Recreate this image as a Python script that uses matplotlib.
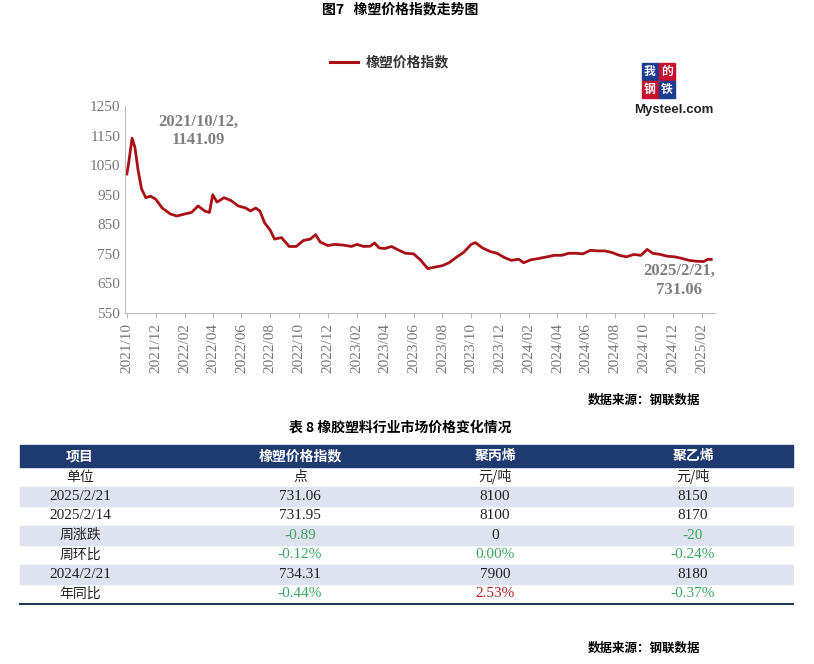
import matplotlib
matplotlib.use("Agg")
import matplotlib.pyplot as plt
import pandas as pd
from matplotlib.patches import Rectangle

dates = ["2021-10-01","2021-10-05","2021-10-12","2021-10-18","2021-10-25","2021-11-01","2021-11-10","2021-11-20",
"2021-12-01","2021-12-15","2022-01-01","2022-01-15","2022-02-01","2022-02-15","2022-03-01","2022-03-15","2022-03-25",
"2022-04-01","2022-04-10","2022-04-25","2022-05-10","2022-05-25","2022-06-10","2022-06-20","2022-07-01","2022-07-10",
"2022-07-20","2022-08-01","2022-08-10","2022-08-25","2022-09-10","2022-09-25","2022-10-10","2022-10-25","2022-11-05",
"2022-11-15","2022-12-01","2022-12-15","2023-01-01","2023-01-20","2023-02-01","2023-02-15","2023-03-01","2023-03-10",
"2023-03-20","2023-04-01","2023-04-15","2023-05-01","2023-05-15","2023-06-01","2023-06-15","2023-07-01","2023-07-15",
"2023-08-01","2023-08-15","2023-09-01","2023-09-15","2023-10-01","2023-10-10","2023-10-25","2023-11-10","2023-11-25",
"2023-12-10","2023-12-25","2024-01-10","2024-01-20","2024-02-05","2024-02-21","2024-03-10","2024-03-25","2024-04-10",
"2024-04-25","2024-05-10","2024-05-25","2024-06-10","2024-06-25","2024-07-10","2024-07-25","2024-08-10","2024-08-25",
"2024-09-10","2024-09-25","2024-10-08","2024-10-20","2024-11-05","2024-11-20","2024-12-05","2024-12-20","2025-01-05",
"2025-01-20","2025-02-05","2025-02-14","2025-02-21"]
values = [1020,1060,1141.09,1110,1030,970,940,945,935,905,885,878,885,890,912,895,890,950,925,940,930,912,905,895,905,895,
855,830,800,805,775,775,795,800,815,790,778,782,780,775,782,775,776,787,770,768,775,762,752,750,730,700,705,710,720,740,
755,782,788,770,758,752,738,728,732,720,730,734.31,740,745,745,752,752,750,762,760,760,755,745,740,748,745,765,752,748,
742,740,735,728,725,724,731.95,731.06]

tbl_header = ["项目", "橡塑价格指数", "聚丙烯", "聚乙烯"]
tbl_rows = [["单位", "点", "元/吨", "元/吨"],
            ["2025/2/21", "731.06", "8100", "8150"],
            ["2025/2/14", "731.95", "8100", "8170"],
            ["周涨跌", "-0.89", "0", "-20"],
            ["周环比", "-0.12%", "0.00%", "-0.24%"],
            ["2024/2/21", "734.31", "7900", "8180"],
            ["年同比", "-0.44%", "2.53%", "-0.37%"]]
green, red, black = "#3aa660", "#b22222", "#222222"
tbl_colors = [[black]*4, [black]*4, [black]*4,
              [black, green, black, green],
              [black, green, green, green],
              [black]*4,
              [black, green, red, green]]

W, H = 814, 664
fig = plt.figure(figsize=(W/100, H/100), dpi=100)
CJK = "Noto Sans CJK SC"
SERIF = "Liberation Serif"

# chart
ax = fig.add_axes([125/W, 1-313/H, (715-125)/W, (313-106)/H])
ax.patch.set_alpha(0)
d = pd.to_datetime(dates)
ax.plot(d, values, color="#A81015", lw=2)
ax.set_ylim(550, 1250)
ax.set_yticks(range(550, 1251, 100))
ax.set_xlim(pd.Timestamp("2021-09-27"), pd.Timestamp("2025-03-01"))
ticks = pd.date_range("2021-10-01", "2025-02-01", freq="2MS")
ax.set_xticks(ticks)
ax.set_xticklabels([t.strftime("%Y/%m") for t in ticks], rotation=90)
for s in ["top", "right"]:
    ax.spines[s].set_visible(False)
for s in ["left", "bottom"]:
    ax.spines[s].set_color("#bbbbbb")
ax.tick_params(axis="both", colors="#bbbbbb", labelcolor="#777777", labelsize=11)
for lab in ax.get_xticklabels() + ax.get_yticklabels():
    lab.set_family(SERIF)
ax.tick_params(axis="y", length=0)
ax.text(pd.Timestamp("2022-03-01"), 1165, "2021/10/12,\n1141.09", ha="center", va="center",
        fontsize=12, fontweight="bold", color="#7f7f7f", family=SERIF)
ax.text(pd.Timestamp("2024-12-15"), 660, "2025/2/21,\n731.06", ha="center", va="center",
        fontsize=12, fontweight="bold", color="#7f7f7f", family=SERIF)

bg = fig.add_axes([0, 0, 1, 1], zorder=5)
bg.patch.set_alpha(0)
bg.set_xlim(0, W); bg.set_ylim(H, 0); bg.axis("off")

bg.text(400, 9, "图7   橡塑价格指数走势图", ha="center", va="center", fontsize=10, fontweight="bold", family=CJK)
bg.plot([330, 358], [62, 62], color="#A81015", lw=2.2)
bg.text(366, 62, "橡塑价格指数", ha="left", va="center", fontsize=10, fontweight="bold", family=CJK, color="#333")
# logo
bg.add_patch(Rectangle((642, 63), 16, 17, color="#1a3d8f"))
bg.add_patch(Rectangle((659, 63), 16, 17, color="#c8102e"))
bg.add_patch(Rectangle((642, 81), 16, 17, color="#c8102e"))
bg.add_patch(Rectangle((659, 81), 16, 17, color="#1a3d8f"))
for (x, y, t) in [(650, 71.5, "我"), (667, 71.5, "的"), (650, 89.5, "钢"), (667, 89.5, "铁")]:
    bg.text(x, y, t, ha="center", va="center", fontsize=8.5, color="white", family=CJK, fontweight="bold")
bg.text(674, 110, "Mysteel.com", ha="center", va="center", fontsize=9.5, fontweight="bold",
        family="Liberation Sans", color="#222")

bg.text(700, 400, "数据来源：钢联数据", ha="right", va="center", fontsize=9, fontweight="bold", family=CJK)
bg.text(700, 648, "数据来源：钢联数据", ha="right", va="center", fontsize=9, fontweight="bold", family=CJK)

# table
bg.text(400, 428, "表 8 橡胶塑料行业市场价格变化情况", ha="center", va="center", fontsize=10, fontweight="bold", family=CJK)
x0, x1 = 20, 793
cx = [80, 300, 495, 693]
ytop, hh, rh = 445, 22, 19.5
bg.add_patch(Rectangle((x0, ytop), x1-x0, hh, color="#1f3a70"))
for c, t in zip(cx, tbl_header):
    bg.text(c, ytop+hh/2, t, ha="center", va="center", fontsize=10, fontweight="bold", color="white", family=CJK)
for i, row in enumerate(tbl_rows):
    y = ytop + hh + i*rh
    if i % 2 == 1:
        bg.add_patch(Rectangle((x0, y), x1-x0, rh, color="#dfe3f0"))
    for j, (c, t) in enumerate(zip(cx, row)):
        fam = CJK if any(ord(ch) > 127 for ch in t) else SERIF
        bg.text(c, y+rh/2, t, ha="center", va="center", fontsize=11 if fam == SERIF else 10,
                color=tbl_colors[i][j], family=fam)
yb = ytop + hh + len(tbl_rows)*rh
bg.plot([x0, x1], [yb, yb], color="#1f3a50", lw=1.5)

fig.savefig("out.png", dpi=100)
